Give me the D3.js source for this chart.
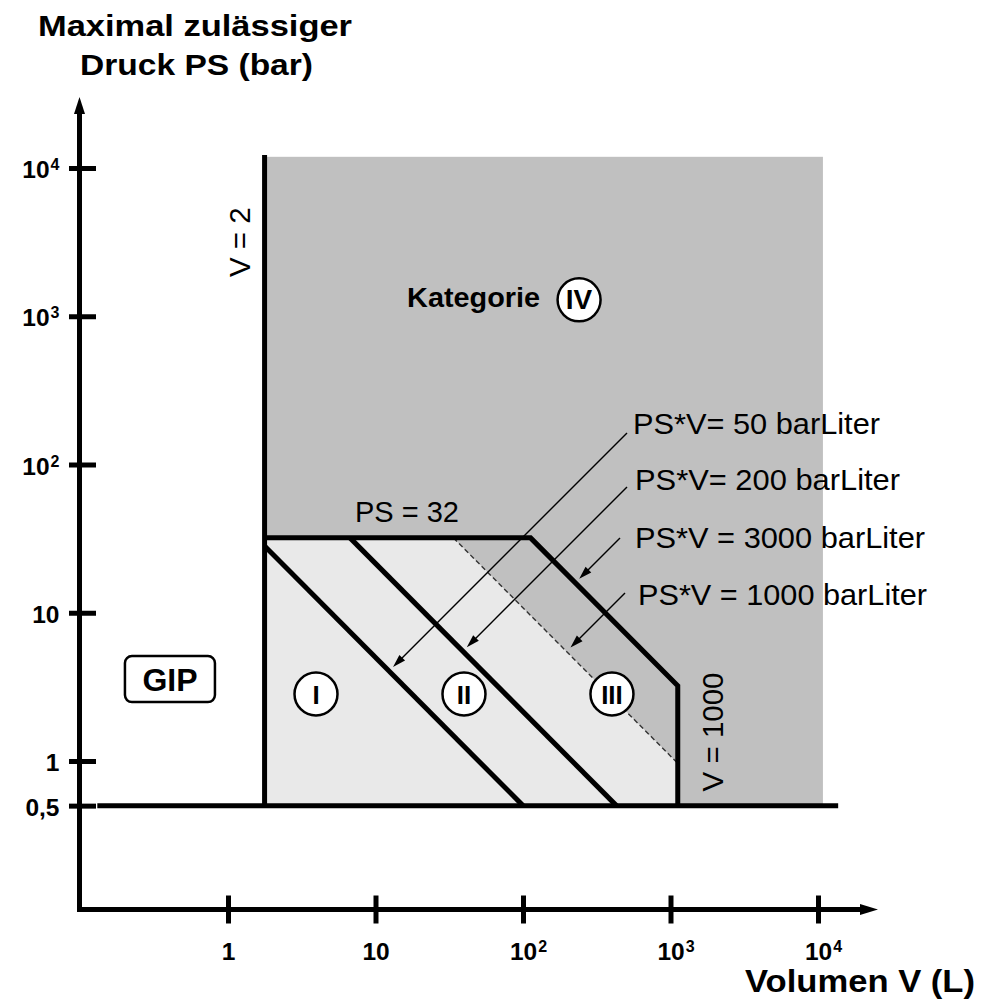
<!DOCTYPE html>
<html>
<head>
<meta charset="utf-8">
<script src="https://cdn.jsdelivr.net/npm/d3@7"></script>
<style>
  body { margin: 0; background: #fff; }
  svg { display: block; font-family: "Liberation Sans", Arial, Helvetica, sans-serif; }
</style>
</head>
<body>
<svg id="chart" width="981" height="999"></svg>
<script>
// axis ticks
const xTicks = [1, 10, 1e2, 1e3, 1e4];
const xTickLabels = [['1', ''], ['10', ''], ['10', '2'], ['10', '3'], ['10', '4']];
const yTicks = [0.5, 1, 10, 1e2, 1e3, 1e4];
const yTickLabels = [['0,5', ''], ['1', ''], ['10', ''], ['10', '2'], ['10', '3'], ['10', '4']];

// limits as drawn in the picture (V in L, PS in bar)
const vLimits = [1.77, 1120];
const vLimitLabels = ['V = 2', 'V = 1000'];
const psLimit = 32;
const psLimitLabel = 'PS = 32';
const psFloor = 0.5;
const areaTop = 11900;
const areaRight = 10800;
const floorExtent = [0.13, 13700];

// PS*V lines (values as drawn)
const psvLabels = ['PS*V= 50 barLiter', 'PS*V= 200 barLiter', 'PS*V = 3000 barLiter', 'PS*V = 1000 barLiter'];
const psvValues = [50, 215, 3600, 1080];

// category markers
const categories = ['I', 'II', 'III', 'IV'];
const categoryV = [3.95, 39.8, 401, 240];
const categoryPS = [2.83, 2.83, 2.83, 1290];
const gipV = 0.404;
const gipPS = 3.57;

//////////////////////////////////////////////////////////////////
const svg = d3.select('#chart');

const x = d3.scaleLog().domain([1, 1e4]).range([228, 818]);
const y = d3.scaleLog().domain([1, 1e4]).range([761, 168]);

const axisX = 79.5;   // y axis position
const axisY = 909.5;  // x axis position
const thick = 5;

const line = d3.line().x(d => x(d[0])).y(d => y(d[1]));

// category IV area
svg.append('rect')
  .attr('x', x(vLimits[0]))
  .attr('y', y(areaTop))
  .attr('width', x(areaRight) - x(vLimits[0]))
  .attr('height', y(psFloor) - y(areaTop))
  .attr('fill', '#c0c0c0');

// categories I - III area
const c1000 = psvValues[3];
const c3000 = psvValues[2];
svg.append('path')
  .attr('d', line([
    [vLimits[0], psFloor],
    [vLimits[0], psLimit],
    [c1000 / psLimit, psLimit],
    [vLimits[1], c1000 / vLimits[1]],
    [vLimits[1], psFloor]
  ]) + 'Z')
  .attr('fill', '#e9e9e9');

// dashed PS*V = 1000 line
svg.append('path')
  .attr('d', line([[c1000 / psLimit, psLimit], [vLimits[1], c1000 / vLimits[1]]]))
  .attr('fill', 'none')
  .attr('stroke', '#333')
  .attr('stroke-width', 1.4)
  .attr('stroke-dasharray', '5,3');

// thick diagonal lines PS*V = 50 / 200
psvValues.slice(0, 2).forEach(c => {
  const v0 = Math.max(vLimits[0], c / psLimit);
  svg.append('path')
    .attr('d', line([[v0, c / v0], [c / psFloor, psFloor]]))
    .attr('fill', 'none')
    .attr('stroke', '#000')
    .attr('stroke-width', thick);
});

// V = 2 line
svg.append('path')
  .attr('d', line([[vLimits[0], areaTop * 1.03], [vLimits[0], psFloor]]))
  .attr('stroke', '#000')
  .attr('stroke-width', thick);

// PS = 32 / PS*V = 3000 / V = 1000 border
svg.append('path')
  .attr('d', line([
    [vLimits[0], psLimit],
    [c3000 / psLimit, psLimit],
    [vLimits[1], c3000 / vLimits[1]],
    [vLimits[1], psFloor]
  ]))
  .attr('fill', 'none')
  .attr('stroke', '#000')
  .attr('stroke-width', thick)
  .attr('stroke-linejoin', 'miter');

// PS = 0.5 floor
svg.append('path')
  .attr('d', line([[floorExtent[0], psFloor], [floorExtent[1], psFloor]]))
  .attr('stroke', '#000')
  .attr('stroke-width', thick);

// labels + arrows for PS*V lines
const psvLayout = [
  { lx: 633, ly: 434, w: 247, ax: 627, ay: 433 },
  { lx: 635, ly: 490, w: 265, ax: 627, ay: 487 },
  { lx: 635, ly: 548, w: 290, ax: 620, ay: 538 },
  { lx: 638, ly: 605, w: 289, ax: 625, ay: 593 }
];

psvLabels.forEach((lab, i) => {
  const L = psvLayout[i];
  const c = psvValues[i];
  // walk 45 degrees down-left until the PS*V line is reached
  const gap = t => (L.ay + t) - y(c / x.invert(L.ax - t));
  let lo = 0, hi = 400;
  for (let k = 0; k < 40; k++) {
    const mid = (lo + hi) / 2;
    if (gap(mid) < 0) lo = mid; else hi = mid;
  }
  const t = lo - 4;
  const tx = L.ax - t, ty = L.ay + t;
  const u = Math.SQRT1_2;
  const hl = 13, hw = 4;
  svg.append('line')
    .attr('x1', L.ax).attr('y1', L.ay)
    .attr('x2', tx + u * (hl - 2)).attr('y2', ty - u * (hl - 2))
    .attr('stroke', '#000')
    .attr('stroke-width', 1.4);
  const bx = tx + u * hl, by = ty - u * hl;
  svg.append('path')
    .attr('d', `M${tx},${ty}L${bx + u * hw},${by + u * hw}L${bx - u * hw},${by - u * hw}Z`)
    .attr('fill', '#000');

  svg.append('text')
    .attr('x', L.lx).attr('y', L.ly)
    .attr('font-size', 29)
    .attr('textLength', L.w)
    .attr('lengthAdjust', 'spacingAndGlyphs')
    .text(lab);
});

// PS = 32 label
svg.append('text')
  .attr('x', x(7.26)).attr('y', y(psLimit) - 16)
  .attr('font-size', 29)
  .text(psLimitLabel);

// V limit labels (rotated)
svg.append('text')
  .attr('transform', `translate(${x(vLimits[0]) - 14.5},${y(3160)}) rotate(-90)`)
  .attr('text-anchor', 'middle')
  .attr('font-size', 29.5)
  .text(vLimitLabels[0]);

svg.append('text')
  .attr('transform', `translate(${x(vLimits[1]) + 45},${y(1.57)}) rotate(-90)`)
  .attr('text-anchor', 'middle')
  .attr('font-size', 29.5)
  .text(vLimitLabels[1]);

// category circles
categories.forEach((cat, i) => {
  const cx = x(categoryV[i]), cy = y(categoryPS[i]);
  svg.append('circle')
    .attr('cx', cx).attr('cy', cy).attr('r', 21.5)
    .attr('fill', '#fff')
    .attr('stroke', '#000')
    .attr('stroke-width', 2.5);
  svg.append('text')
    .attr('x', cx).attr('y', cy + 9.5)
    .attr('text-anchor', 'middle')
    .attr('font-size', cat === 'IV' ? 28 : 26)
    .attr('font-weight', 'bold')
    .text(cat);
});

svg.append('text')
  .attr('x', x(categoryV[3]) - 172).attr('y', y(categoryPS[3]) + 7)
  .attr('font-size', 27)
  .attr('font-weight', 'bold')
  .attr('textLength', 133)
  .attr('lengthAdjust', 'spacingAndGlyphs')
  .text('Kategorie');

// GIP box
const gx0 = x(gipV), gy0 = y(gipPS);
svg.append('rect')
  .attr('x', gx0 - 45).attr('y', gy0 - 23)
  .attr('width', 90).attr('height', 46)
  .attr('rx', 7)
  .attr('fill', '#fff')
  .attr('stroke', '#000')
  .attr('stroke-width', 2.5);
svg.append('text')
  .attr('x', gx0).attr('y', gy0 + 12)
  .attr('text-anchor', 'middle')
  .attr('font-size', 32)
  .attr('font-weight', 'bold')
  .text('GIP');

//////////////////////////////////////////////////////////////////
// axes
const supSize = 16;

const xAxis = svg.append('g')
  .attr('transform', `translate(0,${axisY})`)
  .call(d3.axisBottom(x).tickValues(xTicks).tickSize(0).tickFormat(() => ''));
xAxis.select('.domain').remove();
xAxis.selectAll('.tick line')
  .attr('y1', -14).attr('y2', 14)
  .attr('stroke', '#000').attr('stroke-width', thick);
xAxis.selectAll('.tick text').remove();
xAxis.selectAll('.tick').each(function(d, i) {
  const [base, sup] = xTickLabels[i];
  // keep the base number centred on the tick, superscript trailing
  const t = d3.select(this).append('text')
    .attr('x', sup ? supSize * 0.556 / 2 + 0.5 : 0)
    .attr('y', 50)
    .attr('text-anchor', 'middle')
    .attr('font-size', 24.5)
    .attr('font-weight', 'bold')
    .attr('fill', '#000');
  t.append('tspan').text(base);
  if (sup) t.append('tspan').attr('dx', 1).attr('dy', -8).attr('font-size', supSize).text(sup);
});

const yAxis = svg.append('g')
  .attr('transform', `translate(${axisX},0)`)
  .call(d3.axisLeft(y).tickValues(yTicks).tickSize(0).tickFormat(() => ''));
yAxis.select('.domain').remove();
yAxis.selectAll('.tick line')
  .attr('x1', -10.5).attr('x2', 16.5)
  .attr('stroke', '#000').attr('stroke-width', thick);
yAxis.selectAll('.tick text').remove();
yAxis.selectAll('.tick').each(function(d, i) {
  const [base, sup] = yTickLabels[i];
  const t = d3.select(this).append('text')
    .attr('x', -20).attr('y', 9.5)
    .attr('text-anchor', 'end')
    .attr('font-size', 24.5)
    .attr('font-weight', 'bold')
    .attr('fill', '#000');
  t.append('tspan').text(base);
  if (sup) t.append('tspan').attr('dx', 1).attr('dy', -8).attr('font-size', supSize).text(sup);
});

// axis lines with arrow heads
svg.append('line')
  .attr('x1', axisX).attr('y1', axisY + thick / 2)
  .attr('x2', axisX).attr('y2', 112)
  .attr('stroke', '#000').attr('stroke-width', thick);
svg.append('path')
  .attr('d', `M${axisX},97L${axisX + 5.5},114L${axisX - 5.5},114Z`)
  .attr('fill', '#000');

svg.append('line')
  .attr('x1', axisX - thick / 2).attr('y1', axisY)
  .attr('x2', 862).attr('y2', axisY)
  .attr('stroke', '#000').attr('stroke-width', thick);
svg.append('path')
  .attr('d', `M878,${axisY}L860,${axisY - 5.5}L860,${axisY + 5.5}Z`)
  .attr('fill', '#000');

// axis titles
svg.append('text')
  .attr('x', 38).attr('y', 36)
  .attr('font-size', 30)
  .attr('font-weight', 'bold')
  .attr('textLength', 314)
  .attr('lengthAdjust', 'spacingAndGlyphs')
  .text('Maximal zulässiger');
svg.append('text')
  .attr('x', 80).attr('y', 75)
  .attr('font-size', 30)
  .attr('font-weight', 'bold')
  .attr('textLength', 233)
  .attr('lengthAdjust', 'spacingAndGlyphs')
  .text('Druck PS (bar)');
svg.append('text')
  .attr('x', 745).attr('y', 992)
  .attr('font-size', 32)
  .attr('font-weight', 'bold')
  .attr('textLength', 230)
  .attr('lengthAdjust', 'spacingAndGlyphs')
  .text('Volumen V (L)');
</script>
</body>
</html>
